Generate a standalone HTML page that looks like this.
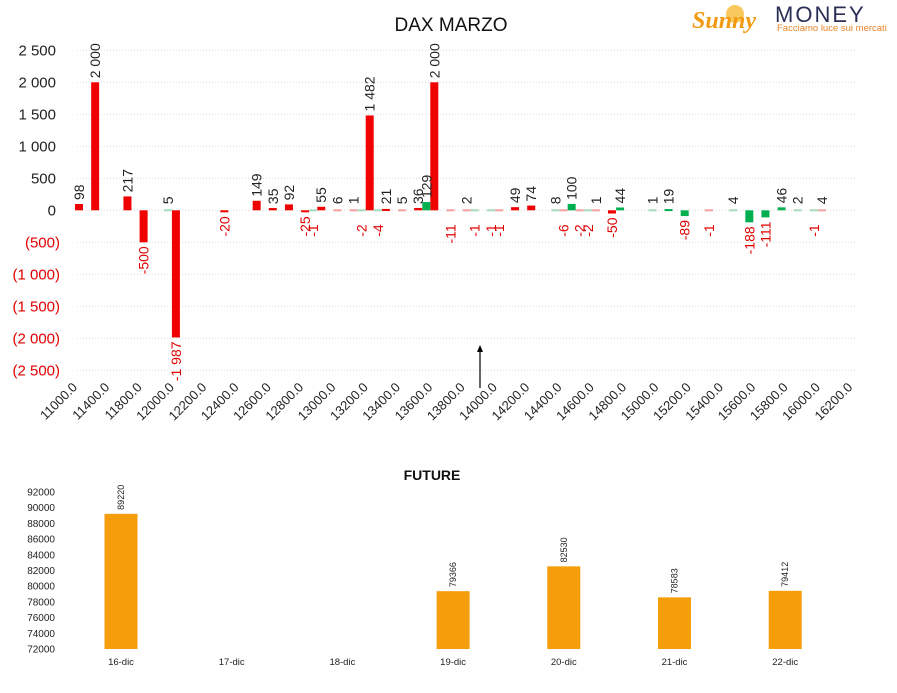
<!DOCTYPE html>
<html><head><meta charset="utf-8"><title>DAX MARZO</title>
<style>
html,body{margin:0;padding:0;background:#fff;}
svg{display:block;font-family:"Liberation Sans","DejaVu Sans",sans-serif;}
</style></head>
<body>
<svg id="chart" width="897" height="693" viewBox="0 0 897 693" xmlns="http://www.w3.org/2000/svg">
  <text x="451" y="31" font-size="19" text-anchor="middle" fill="#111">DAX MARZO</text>
  <g>
    <circle cx="735" cy="14" r="9" fill="#f7b21b" opacity="0.7"></circle>
    <text x="692" y="28" font-size="24" font-style="italic" font-weight="bold" fill="#f29a11" font-family="Liberation Serif, serif">Sunny</text>
    <text x="775" y="22" font-size="22" fill="#2b2f57" letter-spacing="2">MONEY</text>
    <text x="777" y="31" font-size="9.5" fill="#e8842a">Facciamo luce sui mercati</text>
  </g>
  <g id="topChart"></g>
  <g>
    <line x1="480" y1="388" x2="480" y2="350" stroke="#000" stroke-width="1.2"></line>
    <polygon points="480,345 477,352 483,352" fill="#000"></polygon>
  </g>
  <text x="432" y="480" font-size="14" font-weight="bold" text-anchor="middle" fill="#111">FUTURE</text>
  <g id="bottomChart"></g>
</svg>
<script>
// ---- top chart data ----
const strikeLabels = ["11000.0","11400.0","11800.0","12000.0","12200.0","12400.0","12600.0","12800.0","13000.0","13200.0","13400.0","13600.0","13800.0","14000.0","14200.0","14400.0","14600.0","14800.0","15000.0","15200.0","15400.0","15600.0","15800.0","16000.0","16200.0"];
const redIndex = [0,1,3,4,6,9,11,12,13,14,15,16,17,18,19,20,21,22,23,24,26,27,28,30,31,32,33,39,46];
const redValues = [98,2000,217,-500,-1987,-20,149,35,92,-25,55,6,1,1482,21,5,36,2000,-11,2,-1,49,74,-6,-2,1,-50,-1,4];
const greenIndex = [6,15,18,19,22,25,26,30,31,32,34,36,37,38,41,42,43,44,45,46];
const greenValues = [5,-1,-2,-4,129,-1,-1,8,100,-2,44,1,19,-89,4,-188,-111,46,2,-1];
const yTicks = [2500,2000,1500,1000,500,0,-500,-1000,-1500,-2000,-2500];
// ---- bottom chart data ----
const futDates = ["16-dic","17-dic","18-dic","19-dic","20-dic","21-dic","22-dic"];
const futValues = [89220,null,null,79366,82530,78583,79412];
const futTicks = [92000,90000,88000,86000,84000,82000,80000,78000,76000,74000,72000];

const NS="http://www.w3.org/2000/svg";
function mk(tag,attrs,parent,txt){const e=document.createElementNS(NS,tag);for(const k in attrs)e.setAttribute(k,attrs[k]);if(txt!==undefined)e.textContent=txt;parent.appendChild(e);return e;}
function fmt(v){const s=Math.abs(v).toString().replace(/\B(?=(\d{3})+(?!\d))/g," ");return (v<0?"-":"")+s;}

const gTop=document.getElementById('topChart');
const y0=210.3, pxPerUnit=0.064;
const ys=v=>y0-v*pxPerUnit;
const xc=j=>75+16.15*j;
yTicks.forEach(t=>{
  const g=mk('line',{x1:77,x2:856,y1:ys(t),y2:ys(t),stroke:'#d9d9d9','stroke-dasharray':'1,2','stroke-width':1},gTop);
  
  
  const neg=t<0;
  const lbl=neg?"("+fmt(-t)+")":fmt(t);
  const tx=mk('text',{x:neg?60:56,y:ys(t)+5,'font-size':15,'text-anchor':'end',fill:neg?'#e00000':'#222'},gTop,lbl);
  
  
});
strikeLabels.forEach((s,i)=>{
  const x=xc(i*2)+3, y=388;
  const t=mk('text',{x:x,y:y,'font-size':13,'text-anchor':'end',fill:'#222',transform:`rotate(-45 ${x} ${y})`},gTop,s);
  
  
});
function drawSeries(idx,vals,off,color,pale,name){
  idx.forEach((j,k)=>{
    const v=vals[k];const cx=xc(j)+off;
    const yv=ys(v);const top_=Math.min(yv,y0),h=Math.max(Math.abs(yv-y0),2);
    const small=Math.abs(v)<12;
    const r=mk('rect',{x:cx-4,y:small?y0-1:top_,width:8,height:small?2:h,fill:small?pale:color},gTop);
    
    
    let ly,anchor;
    if(v>=0){ly=Math.min(yv,y0-2)-4;anchor='start';}else{ly=Math.max(yv,y0+2)+4+(small?8:0);anchor='end';}
    const t=mk('text',{x:cx+5,y:ly,'font-size':14,'text-anchor':anchor,fill:v<0?'#e00000':'#222',transform:`rotate(-90 ${cx+5} ${ly})`},gTop,fmt(v));
    
    
  });
}
drawSeries(redIndex,redValues,4,'#f00000','#f3a0a0','red-series');
drawSeries(greenIndex,greenValues,-4,'#00b050','#a6dcbd','green-series');

const gBot=document.getElementById('bottomChart');
const by=v=>649-(v-72000)*157/20000;
const bx=i=>121+110.7*i;
futTicks.forEach(t=>{
  const tx=mk('text',{x:55,y:by(t)+3.5,'font-size':10,'text-anchor':'end',fill:'#222'},gBot,t);
  
  
});
futDates.forEach((d,i)=>{
  const tx=mk('text',{x:bx(i),y:665,'font-size':9.5,'text-anchor':'middle',fill:'#222'},gBot,d);
  
  
  const v=futValues[i];
  if(v===null)return;
  const r=mk('rect',{x:bx(i)-16.5,y:by(v),width:33,height:649-by(v),fill:'#f59d0b'},gBot);
  
  
  const lx=bx(i)+3,ly=by(v)-4;
  const t=mk('text',{x:lx,y:ly,'font-size':9,'text-anchor':'start',fill:'#222',transform:`rotate(-90 ${lx} ${ly})`},gBot,v);
  
  
});
</script>
</body></html>
